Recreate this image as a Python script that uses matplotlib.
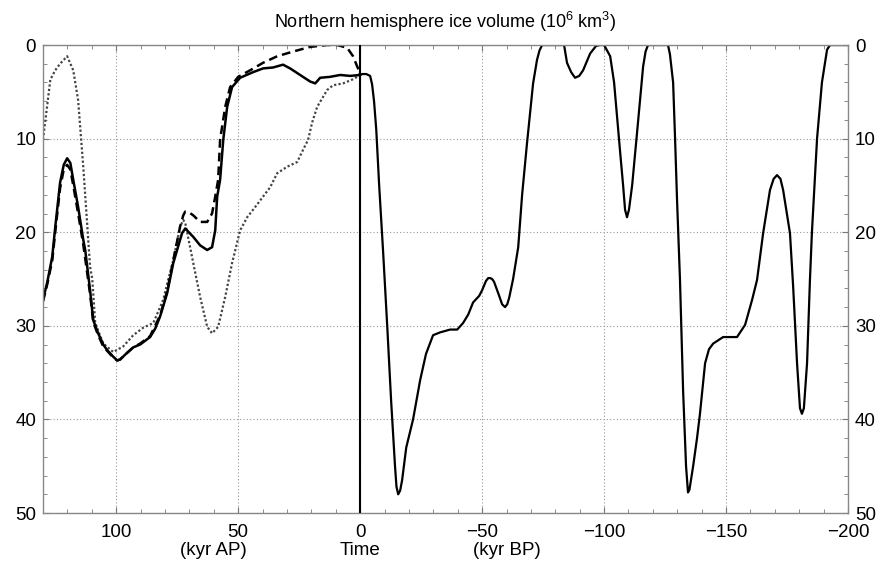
import matplotlib
matplotlib.use('Agg')
import matplotlib.pyplot as plt
from matplotlib.ticker import MultipleLocator
from matplotlib.transforms import blended_transform_factory

plt.rcParams['font.family'] = ['Liberation Sans', 'DejaVu Sans']
plt.rcParams['mathtext.fontset'] = 'custom'
plt.rcParams['mathtext.rm'] = 'Liberation Sans'

# Future (kyr AP) - three simulations
solid_ap_x = [130, 128.3, 126.2, 125.0, 123.0, 121.5, 120.1, 118.8, 117.6, 115.6,
              113.5, 112.7, 110.7, 109.4, 107.4, 105.3, 103.7, 101.2, 99.6, 98.4,
              96.0, 93.0, 90.2, 86.1, 84.0, 82.0, 79.1, 76.6, 73.0, 71.7,
              68.4, 65.6, 62.7, 60.7, 59.4, 58.6, 57.4, 56.1, 54.5, 52.5,
              49.2, 43.9, 39.8, 35.7, 31.6, 28.7, 24.6, 20.5, 18.4, 16.4,
              12.3, 8.2, 4.1, 0]
solid_ap_y = [27.2, 25.4, 22.6, 19.5, 14.7, 12.8, 12.1, 12.6, 14.4, 17.3,
              20.8, 21.9, 26.2, 29.4, 30.8, 32.0, 32.6, 33.3, 33.7, 33.6,
              33.0, 32.3, 32.0, 31.2, 30.3, 29.0, 26.5, 23.3, 20.1, 19.6,
              20.5, 21.4, 21.9, 21.6, 19.8, 16.2, 14.4, 10.1, 6.6, 4.5,
              3.5, 2.9, 2.5, 2.4, 2.1, 2.5, 3.2, 3.9, 4.1, 3.5,
              3.4, 3.2, 3.3, 3.2]

dashed_ap_x = [130, 128.3, 126.2, 125.0, 123.0, 121.5, 120.1, 118.8, 117.6, 115.6,
               113.5, 110.7, 109.4, 107.4, 105.3, 101.2, 99.6, 98.4, 96.0, 93.0,
               90.2, 86.1, 82.0, 79.1, 76.6, 73.8, 72.5, 71.7, 70.0, 68.4,
               65.6, 62.7, 60.7, 59.4, 58.2, 57.4, 55.3, 53.3, 50.0, 45.1,
               39.8, 34.0, 27.5, 20.5, 13.5, 9.4, 5.3, 2.9, 1.2, 0]
dashed_ap_y = [27.4, 25.6, 23.0, 20.0, 15.3, 13.3, 12.8, 13.3, 15.0, 18.0,
               21.3, 26.6, 29.6, 31.0, 32.2, 33.4, 33.7, 33.6, 33.0, 32.3,
               31.9, 31.1, 28.9, 26.3, 23.0, 19.4, 18.2, 17.8, 17.9, 18.2,
               18.9, 18.9, 18.0, 16.2, 14.4, 10.1, 6.6, 4.5, 3.4, 2.7,
               1.9, 1.2, 0.7, 0.2, 0.0, 0.0, 0.3, 1.2, 2.3, 3.0]

dotted_ap_x = [130, 128.3, 127.0, 125.0, 123.0, 120.1, 117.6, 115.6, 113.5, 110.7,
               109.8, 108.6, 105.3, 101.2, 97.1, 93.0, 88.9, 84.8, 80.7, 78.7,
               76.6, 73.8, 72.5, 71.7, 68.4, 65.6, 62.7, 60.7, 58.2, 55.3,
               52.5, 49.2, 46.3, 43.0, 39.8, 36.9, 34.0, 29.9, 25.8, 23.4,
               21.3, 19.7, 17.6, 13.5, 11.1, 7.0, 3.3, 1.2, 0]
dotted_ap_y = [10.1, 6.5, 3.7, 2.7, 2.0, 1.2, 2.7, 5.9, 13.0, 23.7,
               25.0, 29.7, 31.9, 32.8, 32.2, 31.0, 30.2, 29.7, 27.2, 25.1,
               23.0, 19.4, 18.7, 19.0, 23.3, 26.9, 30.1, 30.8, 30.1, 26.9,
               23.3, 19.8, 18.4, 17.3, 16.2, 15.2, 13.7, 13.0, 12.5, 11.2,
               10.1, 8.3, 6.6, 4.8, 4.3, 4.1, 3.7, 3.4, 3.0]

# Past (kyr BP) - reconstruction
past_x = [0, -0.8, -2.5, -4.1, -4.9, -5.7, -6.6, -7.8, -9.4, -11.1,
          -12.7, -14.3, -14.9, -15.6, -16.4, -17.2, -18.9, -21.7, -24.6, -27.0,
          -29.9, -32.8, -36.9, -39.8, -42.2, -44.3, -46.3, -48.8, -50.0, -51.6,
          -52.5, -53.3, -54.1, -54.9, -57.0, -58.2, -59.4, -60.3, -61.1, -62.7,
          -64.8, -66.4, -68.4, -70.9, -72.5, -73.5, -74.6, -83.6, -84.8, -86.5,
          -88.1, -89.8, -91.4, -94.3, -96.7, -98.4, -100.0, -102.5, -104.1, -105.3,
          -106.6, -107.8, -108.6, -109.4, -110.2, -111.5, -113.5, -116.0, -117.0, -118.0,
          -126.2, -127.0, -128.3, -129.1, -129.9, -131.1, -132.4, -133.6, -134.4, -135.0,
          -136.5, -138.1, -139.3, -141.4, -143.0, -144.7, -148.8, -154.5, -157.8, -160.7,
          -162.7, -165.2, -168.0, -169.5, -170.9, -172.3, -173.4, -176.2, -177.5, -179.1,
          -180.3, -181.1, -181.9, -183.2, -184.4, -185.2, -187.3, -189.3, -191.4, -192.6,
          -200]
past_y = [3.2, 3.1, 3.1, 3.3, 4.2, 6.0, 9.0, 15.0, 22.0, 30.0,
          38.0, 45.0, 47.2, 48.0, 47.6, 46.5, 43.0, 40.0, 35.8, 33.0,
          31.0, 30.7, 30.4, 30.4, 29.7, 28.8, 27.5, 26.8, 26.2, 25.2,
          24.9, 24.9, 25.0, 25.3, 26.8, 27.7, 28.0, 27.7, 27.0, 25.0,
          21.6, 16.0, 10.5, 4.1, 1.6, 0.6, 0.0, 0.0, 1.9, 2.9,
          3.5, 3.3, 2.7, 0.9, 0.1, 0.0, 0.0, 1.2, 4.0, 7.6,
          11.5, 15.0, 17.6, 18.4, 17.6, 15.0, 9.4, 2.3, 0.7, 0.0,
          0.0, 1.0, 4.0, 10.0, 16.5, 25.0, 37.0, 45.0, 47.8, 47.5,
          45.0, 42.0, 39.4, 34.0, 32.5, 31.9, 31.2, 31.2, 29.9, 27.2,
          25.1, 20.1, 15.5, 14.3, 13.9, 14.3, 15.5, 20.1, 25.8, 34.0,
          38.8, 39.4, 38.8, 34.0, 25.0, 20.0, 10.0, 4.0, 0.5, 0.0,
          0.0]

x_ticks = [100, 50, 0, -50, -100, -150, -200]
x_ticklabels = ['100', '50', '0', '\u221250', '\u2212100', '\u2212150', '\u2212200']
y_ticks = [0, 10, 20, 30, 40, 50]

fig = plt.figure(figsize=(8.83, 5.67), dpi=100)
ax = fig.add_axes([0.0487, 0.0952, 0.9117, 0.8254])

ax.plot(dotted_ap_x, dotted_ap_y, color='#444444', lw=1.6, ls=(0, (1, 1)))
ax.plot(dashed_ap_x, dashed_ap_y, color='black', lw=1.8, ls=(0, (3.5, 2)),
        dash_joinstyle='round')
ax.plot(solid_ap_x, solid_ap_y, color='black', lw=1.8, solid_joinstyle='round')
ax.plot(past_x, past_y, color='black', lw=1.6, solid_joinstyle='round')
ax.axvline(0, color='black', lw=1.5, zorder=3)

ax.set_xlim(130, -200)
ax.set_ylim(50, 0)
ax.set_xticks(x_ticks)
ax.set_xticklabels(x_ticklabels)
ax.set_yticks(y_ticks)
ax.xaxis.set_minor_locator(MultipleLocator(10))
ax.yaxis.set_minor_locator(MultipleLocator(2))
ax.grid(True, which='major', color='#999999', ls=(0, (1, 2)), lw=0.8)

ax.tick_params(which='both', direction='in', top=True, right=True,
               labelright=True, color='#777777')
ax.tick_params(which='major', length=4, labelsize=13.5)
ax.tick_params(which='minor', length=3)
ax.tick_params(axis='x', pad=8)
ax.tick_params(axis='y', pad=5)
for s in ax.spines.values():
    s.set_color('#888888')
    s.set_linewidth(1)

ax.set_title('Northern hemisphere ice volume (10$^6$ km$^3$)', fontsize=13, pad=12)

trans = blended_transform_factory(ax.transData, ax.transAxes)
for xv, lab in [(60, '(kyr AP)'), (0, 'Time'), (-60, '(kyr BP)')]:
    ax.text(xv, -0.08, lab, transform=trans, ha='center', va='center', fontsize=13.5)

fig.savefig('out.png', dpi=100)
